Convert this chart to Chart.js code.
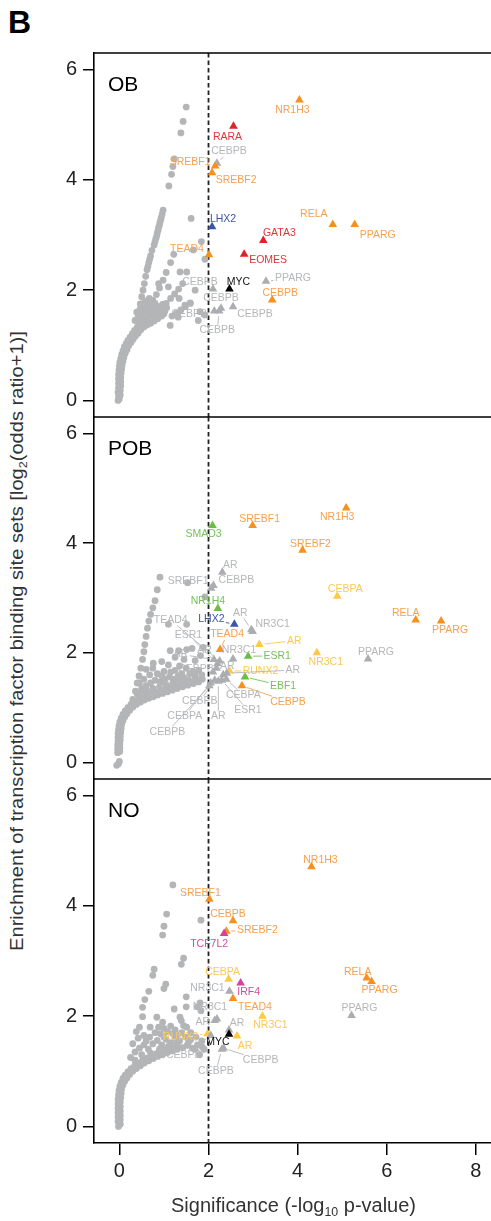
<!DOCTYPE html>
<html>
<head>
<meta charset="utf-8">
<script src="https://cdn.jsdelivr.net/npm/chart.js@4.4.1/dist/chart.umd.min.js"></script>
<style>
  body { margin: 0; width: 491px; height: 1221px; position: relative; overflow: hidden; background: #fff;
         font-family: 'Liberation Sans', Arial, sans-serif; }
  canvas { position: absolute; left: 0; }
  #letter { position: absolute; left: 8px; top: 6px; font-size: 32px; line-height: 32px; font-weight: bold; color: #000; }
  #ytitle { position: absolute; white-space: nowrap; font-size: 19px; line-height: 20px; color: #333; transform-origin: 50% 50%; }
  #xtitle { position: absolute; left: 0; width: 587px; top: 1195px; text-align: center; white-space: nowrap;
            font-size: 20px; line-height: 20px; color: #333; }
  sub { font-size: 0.62em; line-height: 0; vertical-align: -0.35em; }
</style>
</head>
<body>
<div id="letter">B</div>
<div id="ytitle">Enrichment of transcription factor binding site sets [log<sub>2</sub>(odds ratio+1)]</div>
<canvas id="ob_chart" width="491" height="421" style="top:0px"></canvas>
<canvas id="pob_chart" width="491" height="370" style="top:413px"></canvas>
<canvas id="no_chart" width="491" height="446" style="top:775px"></canvas>
<div id="xtitle">Significance (-log<sub>10</sub> p-value)</div>
<script>
// ---------- OB ----------
// background TF sets (grey dots): [significance, enrichment]
const obDots = [
  [-0.03,0.00],[0.00,0.03],[-0.02,0.08],[0.02,0.10],[-0.03,0.15],[0.02,0.18],[-0.02,0.23],[0.03,0.26],
  [-0.02,0.31],[0.03,0.34],[-0.02,0.39],[0.03,0.42],[-0.02,0.47],[0.04,0.50],[-0.01,0.55],[0.05,0.57],
  [0.00,0.62],[0.06,0.64],[0.01,0.69],[0.08,0.71],[0.03,0.76],[0.10,0.78],[0.05,0.83],[0.13,0.85],
  [0.08,0.90],[0.17,0.92],[0.11,0.97],[0.21,0.99],[0.15,1.03],[0.26,1.05],[0.19,1.09],[0.31,1.11],
  [0.24,1.15],[0.36,1.17],[0.29,1.21],[0.42,1.22],[0.34,1.27],[0.48,1.28],[0.40,1.33],[0.55,1.33],
  [0.62,1.37],[0.46,1.38],[0.70,1.40],[0.53,1.43],[0.78,1.44],[0.60,1.47],[0.86,1.48],[0.68,1.52],[0.95,1.53],
  [0.35,1.45],[0.42,1.52],[0.50,1.58],[0.58,1.62],[0.66,1.58],[0.75,1.63],[0.84,1.58],[0.92,1.62],[1.00,1.57],
  [0.55,1.70],[0.63,1.75],[0.72,1.70],[0.80,1.76],[0.88,1.70],[0.97,1.74],[1.06,1.68],[0.47,1.66],[0.39,1.60],
  [0.45,1.40],[0.52,1.48],[0.60,1.55],[0.68,1.64],[0.76,1.55],[0.85,1.66],[0.93,1.55],[1.02,1.62],
  [0.58,1.80],[0.67,1.85],
  [0.44,1.62],[0.47,1.75],[0.50,1.88],[0.53,2.00],[0.56,2.12],[0.59,2.25],[0.62,2.37],[0.66,2.50],
  [0.70,2.62],[0.73,2.72],[0.78,2.82],[0.82,2.94],[0.85,3.04],[0.88,3.14],[0.91,3.23],[0.94,3.32],
  [0.64,2.43],[0.68,2.56],[0.80,2.88],[0.84,2.99],[0.87,3.09],[0.90,3.18],[0.93,3.28],[0.96,3.38],
  [0.98,3.45],[1.11,3.89],[1.17,4.10],[1.20,4.24],[1.23,4.38],[1.38,4.85],[1.43,5.06],[1.50,5.32],
  [1.22,2.65],[1.15,2.50],[1.05,2.32],[0.98,2.18],[0.90,2.04],[0.83,1.92],[0.75,1.82],[0.68,1.72],
  [1.42,2.12],[1.33,2.02],[1.24,1.93],[1.15,1.85],[1.05,1.76],[0.96,1.67],[0.88,1.60],
  [1.59,1.76],[1.48,1.70],[1.38,1.64],[1.28,1.58],[1.18,1.53],
  [1.84,2.88],[1.92,2.56],[1.61,3.30],[1.66,2.73],[1.51,2.33],[1.36,2.33],[1.70,2.00],[1.59,1.77],
  [1.47,1.73],[1.34,1.85],[1.10,2.06],[0.88,2.12],[1.77,1.45],[1.92,1.55],[1.81,1.61],[1.14,1.36],[1.32,1.51]
];
// highlighted TF sets (triangles)
const obTF = ['NR1H3','RARA','CEBPB','SREBF1','SREBF2','LHX2','RELA','PPARG','GATA3','TEAD4','EOMES',
              'PPARG','MYC','CEBPB','CEBPB','CEBPB','CEBPB','CEBPB','CEBPB'];
const obX = [4.04,2.56,2.19,2.15,2.08,2.08,4.79,5.28,3.23,2.01,2.80,3.29,2.47,2.10,3.43,2.55,2.13,2.28,2.24];
const obY = [5.45,4.97,4.30,4.25,4.13,3.15,3.19,3.19,2.90,2.64,2.65,2.16,2.02,2.02,1.82,1.70,1.62,1.67,1.62];
const obGroup = ['orange','red','grey','orange','orange','blue','orange','orange','red','orange','red',
                 'grey','black','grey','orange','grey','grey','grey','grey'];

// ---------- POB ----------
const pobDots = [
  [-0.06,-0.05],[-0.02,-0.02],[0.00,0.02],
  [-0.04,0.18],[0.01,0.20],[-0.04,0.25],[0.01,0.27],[-0.04,0.32],[0.01,0.34],[-0.03,0.39],[0.02,0.41],
  [-0.03,0.46],[0.02,0.48],[-0.03,0.53],[0.03,0.55],[-0.02,0.60],[0.04,0.62],[-0.01,0.67],[0.05,0.69],
  [0.01,0.74],[0.08,0.76],[0.04,0.81],[0.12,0.83],[0.08,0.88],[0.17,0.89],[0.13,0.94],[0.23,0.95],
  [0.19,1.00],[0.30,1.01],[0.26,1.06],[0.38,1.06],[0.34,1.11],[0.47,1.10],[0.43,1.15],[0.56,1.14],
  [0.52,1.19],[0.66,1.17],[0.62,1.22],[0.76,1.20],[0.72,1.25],[0.86,1.23],[0.83,1.28],[0.97,1.26],
  [0.93,1.31],[1.08,1.29],[1.04,1.34],[1.19,1.32],[1.15,1.37],[1.30,1.35],[1.27,1.40],[1.42,1.38],
  [1.38,1.43],[1.54,1.41],[1.50,1.46],[1.66,1.44],[1.62,1.49],[1.78,1.47],[1.86,1.52],
  [0.40,1.25],[0.50,1.35],[0.60,1.40],[0.70,1.45],[0.80,1.50],[0.92,1.47],[1.02,1.52],[1.12,1.56],
  [1.22,1.52],[1.32,1.58],[1.45,1.55],[1.58,1.62],[1.70,1.58],[0.55,1.52],[0.68,1.60],[0.85,1.62],
  [1.00,1.66],[1.25,1.68],[1.50,1.72],[1.78,1.68],[0.45,1.45],[0.62,1.30],
  [0.30,1.15],[0.48,1.28],[0.58,1.30],[0.75,1.35],[0.90,1.38],[1.05,1.42],[1.20,1.45],[1.35,1.48],
  [1.55,1.50],[1.72,1.52],[0.95,1.58],[1.15,1.65],[1.40,1.62],[1.65,1.66],[1.85,1.60],[0.60,1.70],
  [0.75,1.72],[1.35,1.76],
  [0.76,1.81],[0.95,1.84],[1.10,1.78],[1.14,2.04],[1.33,2.04],[1.51,2.06],[1.63,2.08],[1.25,1.92],
  [1.45,1.88],[1.70,1.86],[1.82,1.95],[1.88,2.10],
  [0.36,1.30],[0.40,1.45],[0.44,1.58],[0.48,1.72],[0.52,1.88],[0.55,2.02],[0.57,2.15],[0.60,2.30],
  [0.63,2.45],[0.66,2.58],[0.70,2.70],[0.75,2.82],[0.80,2.95],[0.85,3.15],[0.91,3.38],
  [1.53,3.28],[1.92,3.02],[1.10,2.52],[1.51,2.52]
];
const pobTF = ['NR1H3','SMAD3','SREBF1','SREBF2','AR','CEBPB','SREBF1','CEBPA','NR1H4','LHX2','NR3C1','AR',
               'RELA','PPARG','TEAD4','AR','NR3C1','PPARG','ESR1','NR3C1','RUNX2','AR','EBF1','CEBPB',
               'TEAD4','ESR1','AR','AR','CEBPB','AR','CEBPA','ESR1','AR','CEBPB','CEBPA','CEBPB'];
const pobX = [5.09,2.09,2.99,4.11,2.31,2.11,2.06,4.89,2.21,2.58,2.99,2.96,6.65,7.22,2.26,3.14,4.43,5.58,
              2.89,2.55,2.47,2.41,2.82,2.75,2.25,2.20,2.12,2.18,2.10,2.33,2.40,2.30,2.22,2.14,2.05,2.02];
const pobY = [4.64,4.32,4.32,3.87,3.47,3.23,3.18,3.03,2.81,2.52,2.39,2.42,2.60,2.58,2.06,2.15,2.00,1.89,
              1.94,1.89,1.67,1.63,1.56,1.40,1.85,1.80,1.88,1.72,1.65,1.60,1.52,1.50,1.48,1.50,1.45,1.40];
const pobGroup = ['orange','green','orange','orange','grey','grey','grey','yellow','green','blue','grey','grey',
                  'orange','orange','orange','yellow','yellow','grey','green','grey','yellow','grey','green','orange',
                  'grey','grey','grey','grey','grey','grey','grey','grey','grey','grey','grey','grey'];

// ---------- NO ----------
const noDots = [
  [-0.02,0.00],[0.02,0.04],[-0.03,0.09],[0.02,0.12],[-0.03,0.17],[0.02,0.20],[-0.03,0.25],[0.02,0.28],
  [-0.03,0.33],[0.02,0.36],[-0.03,0.41],[0.02,0.44],[-0.03,0.49],[0.03,0.52],[-0.02,0.57],[0.04,0.60],
  [-0.01,0.65],[0.05,0.68],[0.01,0.73],[0.08,0.75],[0.04,0.80],[0.12,0.82],[0.08,0.87],[0.17,0.88],
  [0.13,0.93],[0.23,0.94],[0.19,0.99],[0.30,1.00],[0.26,1.05],[0.38,1.05],[0.34,1.10],[0.47,1.10],
  [0.43,1.15],[0.56,1.15],[0.52,1.20],[0.66,1.19],[0.62,1.24],[0.76,1.23],[0.72,1.28],[0.86,1.27],
  [0.83,1.32],[0.97,1.30],[0.93,1.35],[1.08,1.34],[1.04,1.39],[1.19,1.37],[1.15,1.42],[1.30,1.40],
  [1.27,1.45],[1.42,1.43],[1.52,1.47],[1.64,1.42],[1.75,1.48],[1.86,1.44],
  [0.25,1.25],[0.35,1.35],[0.45,1.42],[0.55,1.48],[0.65,1.40],[0.75,1.50],[0.85,1.56],[0.95,1.48],
  [1.05,1.58],[1.15,1.52],[1.25,1.60],[1.35,1.55],[1.48,1.62],[1.60,1.57],[1.72,1.62],[0.30,1.50],
  [0.42,1.60],[0.55,1.65],[0.68,1.62],[0.80,1.70],[0.92,1.68],[1.08,1.72],[1.20,1.68],[1.40,1.70],
  [0.38,1.72],[0.45,1.80],[0.69,1.80],[1.00,1.78],[1.25,1.75],[1.51,1.80],[1.90,1.40],[1.80,1.30],
  [0.35,1.20],[0.50,1.30],[0.70,1.33],[0.90,1.40],[1.10,1.45],[1.30,1.50],[1.55,1.52],[1.70,1.40],
  [0.60,1.55],[1.00,1.62],[1.30,1.65],[1.60,1.70],[1.85,1.55],[0.88,1.80],[1.15,1.82],
  [1.20,4.38],[1.06,3.85],[1.00,3.63],[0.97,3.47],[1.83,3.74],[1.44,3.05],[1.39,2.94],[0.78,2.85],
  [0.75,2.74],[1.04,2.58],[1.00,2.50],[0.66,2.45],[0.57,2.30],[1.50,2.35],[0.52,2.16],[1.23,2.13],
  [1.50,2.17],[1.75,2.17],[1.83,2.10],[0.52,1.99],[0.84,1.98],[1.36,1.98],[0.97,1.89],[1.39,1.92],
  [1.44,1.83],[1.81,2.24]
];
const noTF = ['NR1H3','SREBF1','CEBPB','SREBF2','TCF7L2','CEBPA','IRF4','RELA','PPARG','NR3C1','TEAD4',
              'NR3C1','NR3C1','PPARG','AR','AR','MYC','AR','RUNX2','CEBPB','CEBPB','CEBPB'];
const noX = [4.31,2.02,2.55,2.40,2.35,2.45,2.72,5.55,5.66,2.47,2.55,2.19,3.21,5.21,2.14,2.46,2.46,2.64,1.98,2.34,2.30,2.05];
const noY = [4.71,4.12,3.73,3.54,3.50,2.67,2.60,2.69,2.63,2.45,2.32,1.95,2.00,2.01,1.92,1.75,1.67,1.64,1.68,1.42,1.40,1.65];
const noGroup = ['orange','orange','orange','orange','magenta','yellow','magenta','orange','orange','grey','orange',
                 'grey','yellow','grey','grey','grey','black','yellow','yellow','grey','grey','grey'];

// label placement, px offset from the triangle [dx, dy, leader line]
const obLabelAt = [[-7,10],[-6,11],[12,-12,1],[-25,-4],[24,7],[11,-8],[-19,-10],[23,11],[16,-7],[-22,-6],[24,6],
                   [27,-3,1],[9,-7],[-13,-7],[8,-7],[22,7],[-25,3],[0,-10],[-2,19,1]];
const pobLabelAt = [[-9,9],[-9,9],[7,-6],[8,-6],[8,-7],[23,-5],[-23,-7],[8,-7],[-10,-7],[-23,-5,1],[20,-7],[-11,-17,1],
                    [-10,-7],[9,9],[7,-15,1],[35,-4,1],[9,9],[8,-7],[29,0,1],[6,-9],[31,0,1],[66,-3,1],[38,9,1],[46,16,1],
                    [-49,-41,1],[-29,-29,1],[-33,-5,1],[-12,-18],[-17,-3],[4,-9],[17,16,1],[26,30,1],[0,35,1],[-15,21,1],[-26,33,1],[-42,46,1]];
const noLabelAt = [[9,-7],[-9,-6],[-5,-7],[31,-1,1],[-15,11],[-6,-7],[8,9],[-9,-6],[8,9],[-22,-3],[22,9],
                   [-7,-12],[8,9],[8,-7],[-12,2],[8,-7],[-11,8],[8,10],[-27,3,1],[37,12,1],[-6,22,1],[-27,20,1]];

const triColor = {orange:'#F7901E', red:'#E0202A', blue:'#3A56A5', green:'#6BBE45', yellow:'#FFC845',
                  magenta:'#D7419A', grey:'#ABADB0', black:'#000000'};
const textColor = {orange:'#F9A04B', red:'#E0333B', blue:'#3A56A5', green:'#74C159', yellow:'#FDC854',
                   magenta:'#D24A9C', grey:'#B4B6B8', black:'#111111'};

const FONT = "'Liberation Sans', Arial, sans-serif";
Chart.defaults.font.family = FONT;

function decor(name, names, groups, labelAt, drawTop, drawBottom) {
  return {
    id: 'decor_' + name,
    beforeDatasetsDraw(chart) {
      const ctx = chart.ctx, a = chart.chartArea;
      const x2 = chart.scales.x.getPixelForValue(2);
      ctx.save();
      ctx.strokeStyle = '#222';
      ctx.lineWidth = 1.8;
      ctx.setLineDash([4.5, 3]);
      ctx.beginPath();
      ctx.moveTo(x2, a.top);
      ctx.lineTo(x2, a.bottom);
      ctx.stroke();
      ctx.restore();
    },
    afterDatasetsDraw(chart) {
      const ctx = chart.ctx, a = chart.chartArea;
      const pts = chart.getDatasetMeta(1).data;
      ctx.save();
      ctx.font = "10.5px " + FONT;
      ctx.textAlign = 'center';
      ctx.textBaseline = 'middle';
      pts.forEach((p, i) => {
        const off = labelAt[i];
        const lx = p.x + off[0], ly = p.y + off[1];
        const col = textColor[groups[i]];
        if (off[2]) {
          const w = ctx.measureText(names[i]).width / 2 + 1.5, h = 5.5;
          const dx = p.x - lx, dy = p.y - ly;
          const len = Math.hypot(dx, dy);
          const t = Math.min(dx ? w / Math.abs(dx) : 1e9, dy ? h / Math.abs(dy) : 1e9);
          ctx.strokeStyle = col;
          ctx.lineWidth = 0.9;
          ctx.beginPath();
          ctx.moveTo(lx + dx * t, ly + dy * t);
          ctx.lineTo(p.x - dx / len * 5, p.y - dy / len * 5);
          ctx.stroke();
        }
        ctx.fillStyle = col;
        ctx.fillText(names[i], lx, ly);
      });
      // panel name
      ctx.fillStyle = '#000';
      ctx.textAlign = 'left';
      ctx.textBaseline = 'alphabetic';
      ctx.font = "21px " + FONT;
      ctx.fillText(name, a.left + 14, a.top + 37.5);
      // frame lines
      ctx.strokeStyle = '#000';
      ctx.lineWidth = 1.6;
      ctx.beginPath();
      if (drawTop) { ctx.moveTo(a.left, a.top); ctx.lineTo(a.right, a.top); }
      if (drawBottom) { ctx.moveTo(a.left, a.bottom); ctx.lineTo(a.right, a.bottom); }
      ctx.stroke();
      ctx.restore();
    }
  };
}

function makePanel(id, name, dots, names, xs, ys, groups, labelAt, pad, isBottom, drawTop) {
  new Chart(document.getElementById(id), {
    type: 'scatter',
    data: {
      datasets: [{
        data: dots.map(d => ({x: d[0], y: d[1]})),
        pointRadius: 3.4,
        pointBackgroundColor: '#B3B5B7',
        pointBorderWidth: 0,
        order: 2
      },
      {
        data: xs.map((x, i) => ({x: x, y: ys[i]})),
        pointStyle: 'triangle',
        pointRadius: 5,
        pointBackgroundColor: groups.map(g => triColor[g]),
        pointBorderWidth: 0,
        order: 1
      }]
    },
    options: {
      responsive: false,
      animation: false,
      layout: { padding: pad, autoPadding: false },
      plugins: { legend: { display: false }, tooltip: { enabled: false } },
      scales: {
        x: {
          type: 'linear',
          min: -0.57,
          max: 8.34,
          display: isBottom,
          ticks: { stepSize: 2, includeBounds: false, color: '#222', font: { size: 20 }, padding: 4, maxRotation: 0 },
          grid: { drawOnChartArea: false, tickLength: 12, color: '#000', lineWidth: 1.5 },
          border: { display: true, color: '#000', width: 1.6 },
          afterFit: s => { if (isBottom) s.height = 78; s.paddingLeft = 0; s.paddingRight = 0; }
        },
        y: {
          min: -0.3,
          max: 6.3,
          ticks: { stepSize: 2, includeBounds: false, color: '#222', font: { size: 20 }, padding: 6 },
          grid: { drawOnChartArea: false, tickLength: 11, color: '#000', lineWidth: 1.5 },
          border: { display: true, color: '#000', width: 1.6 },
          afterFit: s => { s.width = 94; s.paddingTop = 0; s.paddingBottom = 0; }
        }
      }
    },
    plugins: [decor(name, names, groups, labelAt, drawTop, !isBottom)]
  });
}

makePanel('ob_chart', 'OB', obDots, obTF, obX, obY, obGroup, obLabelAt, {top: 53, bottom: 4, left: 0, right: 0}, false, true);
makePanel('pob_chart', 'POB', pobDots, pobTF, pobX, pobY, pobGroup, pobLabelAt, {top: 4, bottom: 4, left: 0, right: 0}, false, false);
makePanel('no_chart', 'NO', noDots, noTF, noX, noY, noGroup, noLabelAt, {top: 4, bottom: 0, left: 0, right: 0}, true, false);

// y title: condensed to the span of the three panels
const yt = document.getElementById('ytitle');
const w = yt.offsetWidth, h = yt.offsetHeight;
yt.style.left = (17 - w / 2) + 'px';
yt.style.top = (641 - h / 2) + 'px';
yt.style.transform = 'rotate(-90deg) scaleX(' + (620 / w) + ')';
</script>
</body>
</html>
